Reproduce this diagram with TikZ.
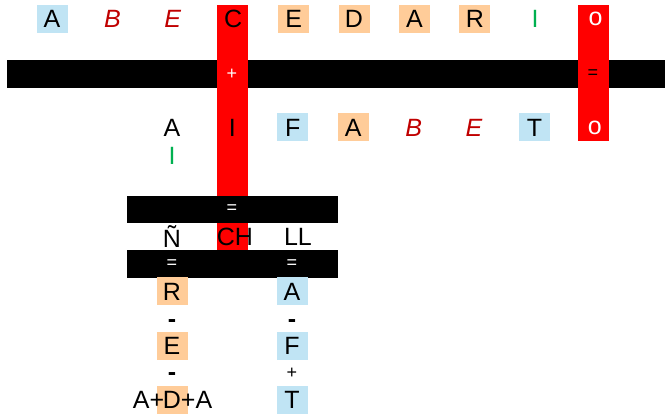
\documentclass[tikz,border=0pt]{standalone}
\usepackage{fontspec}
\setmainfont{Liberation Sans}
\usepackage{xcolor}
\usepackage{tikz}
\usetikzlibrary{positioning}
\definecolor{boxblue}{HTML}{C0E4F4}
\definecolor{boxorange}{HTML}{FFCC99}
\definecolor{letterred}{HTML}{C00000}
\definecolor{lettergreen}{HTML}{00B050}

\begin{document}
\begin{tikzpicture}[
    x=1pt, y=-1pt,
    node distance=0pt and 29pt,
    letter/.style={minimum width=31pt, minimum height=28pt, inner sep=0pt,
                   font=\fontsize{25}{25}\selectfont},
    bluebox/.style={letter, fill=boxblue},
    orangebox/.style={letter, fill=boxorange},
    italred/.style={letter, text=letterred, font=\fontsize{25}{25}\selectfont\itshape},
    greenletter/.style={letter, text=lettergreen},
    bar/.style={fill=black, inner sep=0pt, anchor=north west, minimum height=28pt},
    redcol/.style={fill=red, inner sep=0pt, anchor=north west, minimum width=31pt},
    sign/.style={inner sep=0pt, font=\fontsize{18}{18}\selectfont},
    minus/.style={inner sep=0pt, font=\fontsize{25}{25}\selectfont\bfseries}
]
\useasboundingbox (0,0) rectangle (665,417);
% bars and columns
\node[bar, minimum width=658pt] (bar1) at (7,60) {};
\node[redcol, minimum height=245pt] (colC) at (217,5) {};
\node[redcol, minimum height=136pt] (colO) at (578,5) {};
\node[bar, minimum width=211pt, minimum height=27pt] (bar2) at (127,196) {};
\node[bar, minimum width=211pt] (bar3) at (127,250) {};
% first row
\node[bluebox] (a1) at (52,19) {A};
\node[italred, right=of a1] (b1) {B};
\node[italred, right=of b1] (e1) {E};
\node[letter, right=of e1] (c1) {C};
\node[orangebox, right=of c1] (e2) {E};
\node[orangebox, right=of e2] (d1) {D};
\node[orangebox, right=of d1] (a2) {A};
\node[orangebox, right=of a2] (r1) {R};
\node[greenletter, right=of r1] (i1) {I};
\node[letter, text=white, right=of i1] (o1) {o};
% second row
\node[letter] (a3) at (172,127.5) {A};
\node[letter, right=of a3] (i2) {I};
\node[bluebox, right=of i2] (f1) {F};
\node[orangebox, right=of f1] (a4) {A};
\node[italred, right=of a4] (b2) {B};
\node[italred, right=of b2] (e3) {E};
\node[bluebox, right=of e3] (t1) {T};
\node[letter, text=white, right=of t1] (o2) {o};
\node[greenletter, below=of a3] (i3) {I};
% signs on the bars
\node[sign, text=white] (plus1) at (232,74) {+};
\node[sign] (eq1) at (593,74) {=};
\node[sign, text=white] (eq2) at (232,209) {=};
\node[sign, text=white] (eq3) at (172,264) {=};
\node[sign, text=white] (eq4) at (292,264) {=};
% third row
\node[letter] (enye) at (172,236.5) {Ñ};
\node[letter, right=of enye] (ch) {CH};
\node[letter, right=of ch] (ll) {LL};
% left and right columns
\node[orangebox] (r2) at (172,291.5) {R};
\node[bluebox] (a5) at (292,291.5) {A};
\node[minus] (m1) at (172,324) {-};
\node[minus] (m2) at (292,324) {-};
\node[orangebox] (e4) at (172,345.5) {E};
\node[bluebox] (f2) at (292,345.5) {F};
\node[minus] (m3) at (172,377) {-};
\node[sign] (plus2) at (292,373) {+};
\node[orangebox] (d2) at (172,399.5) {D};
\node[letter, minimum width=0pt, anchor=east] (aplus) at ([xshift=8pt]d2.west) {A+};
\node[letter, minimum width=0pt, anchor=west] (plusa) at ([xshift=-7pt]d2.east) {+A};
\node[bluebox] (t2) at (292,399.5) {T};
\end{tikzpicture}
\end{document}
